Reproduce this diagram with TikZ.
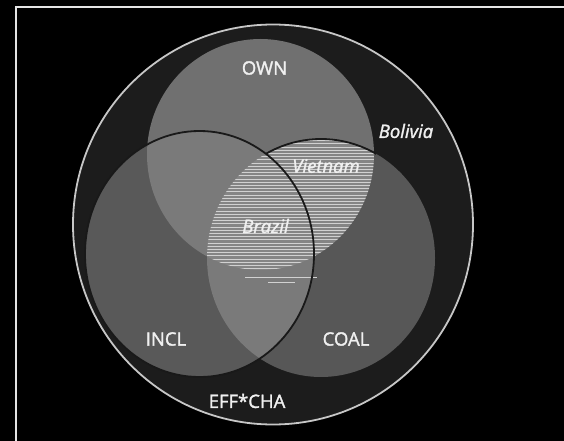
\documentclass[tikz,border=0pt]{standalone}
\usepackage{fontspec}
\setmainfont{Open Sans}[FakeBold=1.6,AutoFakeBold=1.6]
\begin{document}
\begin{tikzpicture}[x=1pt,y=-1pt,
  lbl/.style={text=white!94!black, font=\fontsize{18.5}{22}\selectfont\bfseries, inner sep=0pt},
  ilbl/.style={lbl, font=\fontsize{18.5}{22}\selectfont\bfseries\itshape}]
\fill[black] (0,0) rectangle (564,441);
\useasboundingbox (0,0) rectangle (564,441);
\draw[white!90!black, line width=2.2pt] (16,441) -- (16,7) -- (566,7);
% outer circle
\fill[fill=black!89] (273,224.5) circle [radius=200pt];
\draw[black!22, line width=1.8pt] (273,224.5) circle [radius=200pt];
\def\own{(260.5,154.5) ellipse [x radius=113.5pt, y radius=115.5pt]}
\def\incl{(199.5,254) ellipse [x radius=114.5pt, y radius=123pt]}
\def\coal{(321,258) ellipse [x radius=114pt, y radius=119pt]}
\fill[black!56] \own;
\fill[black!65] \incl;
\fill[black!66] \coal;
\begin{scope}
 \clip \own; \fill[black!52] \incl;
\end{scope}
\begin{scope}
 \clip \incl; \fill[black!52] \coal;
\end{scope}
\begin{scope}
 \clip \own; \clip \coal;
 \fill[black!48] (0,0) rectangle (564,441);
 \foreach \yy in {131,134.2,...,272}{
   \draw[black!18, line width=0.8pt] (100,\yy) -- (460,\yy);
 }
\end{scope}
\draw[black!18, line width=0.8pt] (245,277) -- (317,277);
\draw[black!18, line width=0.8pt] (268,282) -- (295,282);
% outlines
\draw[black!90, line width=1.8pt] \incl;
\begin{scope}
 \clip (266,128) rectangle (376,162);
 \draw[black!90, line width=1.8pt] \coal;
\end{scope}
% labels
\node[lbl] (own) at (264.5,68) {OWN};
\node[ilbl] (bol) at (406,131) {Bolivia};
\node[ilbl] (vie) at (326,166) {Vietnam};
\node[ilbl] (bra) at (265.5,226) {Brazil};
\node[lbl] (incl) at (166,339) {INCL};
\node[lbl] (coal) at (346,339) {COAL};
\node[lbl] (eff) at (247,401) {EFF*CHA};
\end{tikzpicture}
\end{document}
